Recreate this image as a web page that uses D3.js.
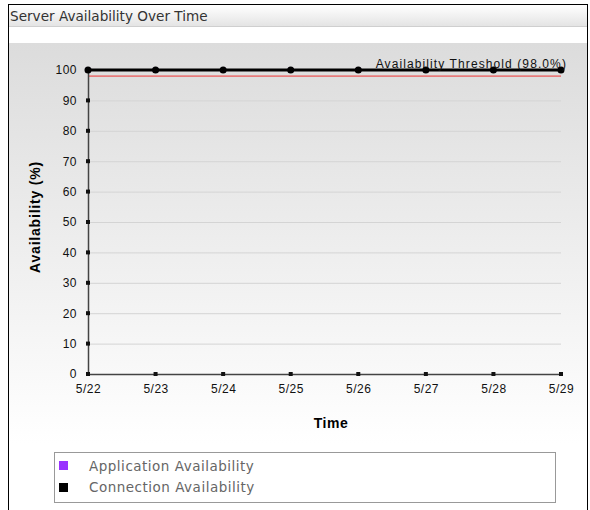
<!DOCTYPE html>
<html>
<head>
<meta charset="utf-8">
<script src="https://cdn.jsdelivr.net/npm/d3@7"></script>
<style>
  body { margin: 0; background: #fff; }
  svg { display: block; }
</style>
</head>
<body>
<div id="chart"></div>
<script>
// data
const dates = ['5/22', '5/23', '5/24', '5/25', '5/26', '5/27', '5/28', '5/29'];
const applicationAvail = [100, 100, 100, 100, 100, 100, 100, 100];
const connectionAvail = [100, 100, 100, 100, 100, 100, 100, 100];
const yTicks = [0, 10, 20, 30, 40, 50, 60, 70, 80, 90, 100];
const threshold = 98.0;
const legendItems = ['Application Availability', 'Connection Availability'];
const legendColors = ['#9933ff', '#000000'];

const W = 590, H = 510;
const margin = { top: 70, right: 29, bottom: 136, left: 88 };

const svg = d3.select('#chart').append('svg')
  .attr('width', W)
  .attr('height', H);

const defs = svg.append('defs');
let g1 = defs.append('linearGradient').attr('id', 'titleGrad').attr('x1', 0).attr('y1', 0).attr('x2', 0).attr('y2', 1);
g1.append('stop').attr('offset', '0%').attr('stop-color', '#ffffff');
g1.append('stop').attr('offset', '100%').attr('stop-color', '#e4e4e4');
let g2 = defs.append('linearGradient').attr('id', 'bgGrad').attr('x1', 0).attr('y1', 0).attr('x2', 0).attr('y2', 1);
g2.append('stop').attr('offset', '0%').attr('stop-color', '#dcdcdc');
g2.append('stop').attr('offset', '100%').attr('stop-color', '#ffffff');

// frame + title bar
svg.append('rect').attr('x', 8.5).attr('y', 4.5).attr('width', 579).attr('height', 520)
  .attr('fill', '#fff').attr('stroke', '#000');
svg.append('rect').attr('x', 9).attr('y', 5).attr('width', 578).attr('height', 21).attr('fill', 'url(#titleGrad)');
svg.append('line').attr('x1', 9).attr('x2', 587).attr('y1', 26.5).attr('y2', 26.5).attr('stroke', '#cfcfcf');
svg.append('text').attr('x', 10).attr('y', 21)
  .style('font-family', 'Verdana, "DejaVu Sans", sans-serif').style('font-size', '13.6px')
  .attr('fill', '#333').text('Server Availability Over Time');

// chart background
svg.append('rect').attr('x', 9).attr('y', 43).attr('width', 578).attr('height', 400).attr('fill', 'url(#bgGrad)');

const x = d3.scalePoint().domain(dates).range([margin.left, W - margin.right]);
const y = d3.scaleLinear().domain([0, 100]).range([H - margin.bottom, margin.top]);

const font = 'Arial, "Liberation Sans", sans-serif';

// grid
svg.append('g').selectAll('line').data(yTicks.filter(d => d > 0 && d < 100)).join('line')
  .attr('x1', margin.left).attr('x2', W - margin.right)
  .attr('y1', d => y(d) + 0.5).attr('y2', d => y(d) + 0.5)
  .attr('stroke', '#d4d4d4');

// threshold
svg.append('line').attr('x1', margin.left).attr('x2', W - margin.right)
  .attr('y1', y(threshold)).attr('y2', y(threshold))
  .attr('stroke', '#ee3333').attr('stroke-width', 1);

// axes
const yAxis = svg.append('g').attr('transform', `translate(${margin.left},0)`)
  .call(d3.axisLeft(y).tickValues(yTicks).tickSize(0).tickPadding(11));
const xAxis = svg.append('g').attr('transform', `translate(0,${y(0)})`)
  .call(d3.axisBottom(x).tickSize(0).tickPadding(10));
[yAxis, xAxis].forEach(a => {
  a.select('.domain').attr('stroke', '#444').attr('stroke-width', 1.5);
  a.selectAll('text').style('font-family', font).style('font-size', '12px')
    .style('letter-spacing', '0.5px').attr('fill', '#111');
});

// tick squares
svg.append('g').selectAll('rect').data(yTicks).join('rect')
  .attr('x', margin.left - 2).attr('y', d => y(d) - 2).attr('width', 4).attr('height', 4).attr('fill', '#111');
svg.append('g').selectAll('rect').data(dates).join('rect')
  .attr('x', d => x(d) - 2).attr('y', y(0) - 2).attr('width', 4).attr('height', 4).attr('fill', '#111');

// series (connection drawn last, covers application)
const line = d3.line().x((d, i) => x(dates[i])).y(d => y(d));
[applicationAvail, connectionAvail].forEach((s, k) => {
  svg.append('path').datum(s).attr('d', line).attr('fill', 'none')
    .attr('stroke', legendColors[k]).attr('stroke-width', k ? 3 : 2);
  svg.append('g').selectAll('circle').data(s).join('circle')
    .attr('cx', (d, i) => x(dates[i])).attr('cy', d => y(d)).attr('r', k ? 3.5 : 3)
    .attr('fill', legendColors[k]);
});

// threshold label
svg.append('text').attr('x', 567).attr('y', 68).attr('text-anchor', 'end')
  .style('font-family', font).style('font-size', '12px').style('letter-spacing', '1.1px')
  .attr('fill', '#111')
  .text('Availability Threshold (' + threshold.toFixed(1) + '%)');

// axis titles
svg.append('text').attr('transform', 'translate(40,217) rotate(-90)').attr('text-anchor', 'middle')
  .style('font-family', font).style('font-size', '14px').style('font-weight', 'bold')
  .style('letter-spacing', '0.8px')
  .text('Availability (%)');
svg.append('text').attr('x', 331).attr('y', 428).attr('text-anchor', 'middle')
  .style('font-family', font).style('font-size', '14px').style('font-weight', 'bold')
  .style('letter-spacing', '0.5px')
  .text('Time');

// legend
const lg = svg.append('g');
lg.append('rect').attr('x', 54.5).attr('y', 452.5).attr('width', 501).attr('height', 50)
  .attr('fill', '#fff').attr('stroke', '#999');
legendItems.forEach((t, i) => {
  lg.append('rect').attr('x', 59).attr('y', 461 + i * 22).attr('width', 9).attr('height', 9).attr('fill', legendColors[i]);
  lg.append('text').attr('x', 89).attr('y', 471 + i * 21)
    .style('font-family', 'Verdana, "DejaVu Sans", sans-serif').style('font-size', '13.5px')
    .style('letter-spacing', '0.5px')
    .attr('fill', '#666').text(t);
});
</script>
</body>
</html>
